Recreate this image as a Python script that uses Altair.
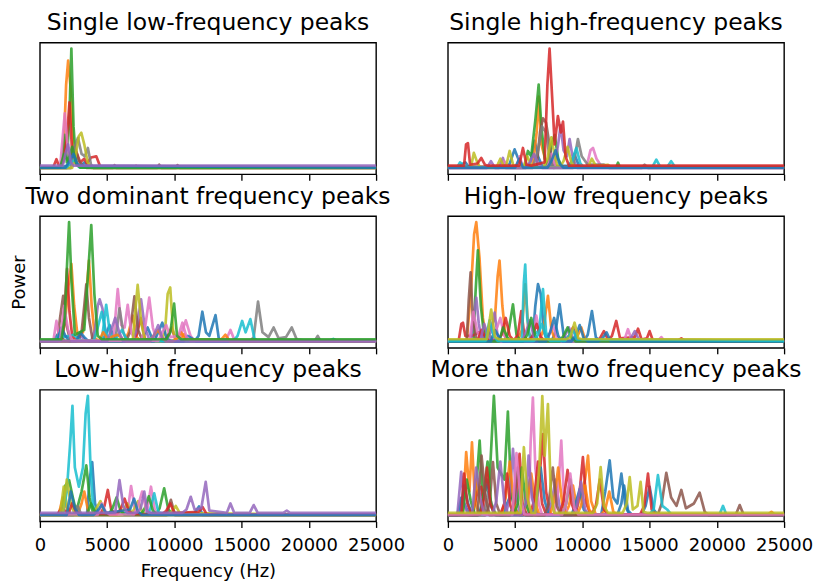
import altair as alt
import pandas as pd

TAB10 = ["#1f77b4", "#ff7f0e", "#2ca02c", "#d62728", "#9467bd",
         "#8c564b", "#e377c2", "#7f7f7f", "#bcbd22", "#17becf"]
FREQ_TICKS = [0, 5000, 10000, 15000, 20000, 25000]
PANEL_TITLES = ["Single low-frequency peaks", "Single high-frequency peaks",
                "Two dominant frequency peaks", "High-low frequency peaks",
                "Low-high frequency peaks", "More than two frequency peaks"]

# Each series: list of (frequency Hz, relative power).
# Series k of a panel list uses colour TAB10[k]; EXTRA lists give (colour index, points).
SINGLE_LOW = [
    [(0,0.5),(1500,0.5),(2200,3),(2500,10),(2750,4),(3000,1),(3300,5),(3600,1),(25000,0.5)],
    [(0,0.8),(1500,0.8),(1750,10),(1950,70),(2100,90),(2300,65),(2500,15),(2750,3),(3000,1),(25000,0.8)],
    [(0,0.6),(1600,0.6),(1850,28),(2000,5),(2200,45),(2340,100),(2500,35),(2700,3),(3000,1),(25000,0.6)],
    [(0,1),(1000,1),(1230,7.6),(1450,1),(1750,6),(2000,25),(2200,55),(2400,12),(2700,14),(3000,5),(3300,8),(3500,4),(3800,9),(4190,10),(4500,1),(7000,1),(7150,2),(7300,1),(25000,1)],
    [(0,2.2),(1700,2.2),(1900,12),(2100,20),(2300,5),(2500,2.2),(25000,2.2)],
    [(0,0.3),(2000,0.3),(2300,8),(2600,18),(2900,6),(3200,2),(3500,0.3),(5400,0.3),(5550,2.6),(5700,0.3),(8700,0.3),(8870,3),(9050,0.3),(10100,0.3),(10230,2.6),(10400,0.3),(25000,0.3)],
    [(0,0.7),(1500,0.7),(1650,20),(1850,46),(2050,20),(2250,3),(2500,6),(2800,2),(25000,0.7)],
    [(0,0.2),(2300,0.2),(2600,18),(2830,25.5),(3100,12),(3350,10),(3570,17),(3800,3),(4000,0.2),(25000,0.2)],
    [(0,0.4),(2400,0.4),(2650,10),(2900,27),(3080,29.7),(3300,20),(3550,5),(3800,0.4),(25000,0.4)],
    [(0,0.9),(2000,0.9),(2300,5),(2600,7),(2900,1),(25000,0.9)],
]
SINGLE_LOW_EXTRA = [
    (2, [(0,0.6),(1500,0.6),(1800,12),(2100,6),(2400,18),(2700,4),(3000,0.6),(25000,0.6)]),
    (0, [(0,0.5),(1900,0.5),(2200,6),(2500,12),(2800,3),(3300,2),(25000,0.5)]),
]

SINGLE_HIGH = [
    [(0,0.5),(800,0.5),(1000,3),(1300,5),(1600,0.5),(4400,0.5),(4600,4),(4960,15.8),(5300,6),(5600,1),(6000,1),(6200,8),(6450,23),(6700,10),(7000,2),(9000,2),(9200,6),(9400,12),(9800,0.5),(25000,0.5)],
    [(0,0.8),(6300,0.8),(6600,30),(6750,60),(6950,20),(7300,5),(7600,0.8),(16300,0.8),(16600,2),(16900,0.8),(25000,0.8)],
    [(0,0.6),(5700,0.6),(5950,14.5),(6200,10),(6500,40),(6750,70),(6950,35),(7200,8),(7450,3),(7700,20),(7940,28),(8200,8),(8500,0.6),(12500,0.6),(12650,4.7),(12800,0.6),(25000,0.6)],
    [(0,2.2),(1200,2.2),(1350,20),(1490,21),(1650,3),(2200,4),(2480,8.7),(2750,3),(3000,2.2),(5300,2.2),(5580,17),(5850,3),(6200,2.2),(7190,5),(7400,70),(7560,100),(7750,60),(7940,20),(8180,43.7),(8400,30),(8560,39),(8750,10),(9000,2.2),(25000,2.2)],
    [(0,0.4),(3800,0.4),(4090,8.7),(4300,0.4),(7900,0.4),(8200,20),(8380,36),(8600,15),(8850,10),(9050,24.4),(9300,8),(9600,0.4),(25000,0.4)],
    [(0,1.5),(6600,1.5),(6850,30),(7070,41.8),(7300,38),(7550,20),(7800,3),(8100,1.5),(25000,1.5)],
    [(0,0.7),(3900,0.7),(4200,6),(4500,0.7),(5100,0.7),(5330,10),(5600,0.7),(7400,0.7),(7700,12),(8000,0.7),(10300,0.7),(10600,15),(10790,17),(11050,8),(11400,2),(12000,0.7),(25000,0.7)],
    [(0,0.3),(6300,0.3),(6700,15),(7000,35),(7300,30),(7600,6),(7900,0.3),(9300,0.3),(9670,24.4),(9950,10),(10400,3),(11600,3),(12000,0.3),(14400,0.3),(14630,3),(14900,0.3),(25000,0.3)],
    [(0,0.5),(1700,0.5),(1930,12.9),(2150,6),(2400,0.5),(4300,0.5),(4590,14.5),(4850,3),(5100,0.5),(7100,0.5),(7400,8),(7690,25.8),(7950,10),(8200,0.5),(10400,0.5),(10700,8),(11000,2),(11900,3),(12200,0.5),(25000,0.5)],
    [(0,0.9),(700,0.9),(900,5),(1200,2),(1500,0.9),(8900,0.9),(9200,5),(9550,17),(9850,4),(10100,0.9),(15200,0.9),(15500,7.3),(15800,0.9),(16300,0.9),(16600,6),(16900,0.9),(25000,0.9)],
]
SINGLE_HIGH_EXTRA = [
    (8, [(0,0.5),(3600,0.5),(3900,8),(4200,0.5),(5600,0.5),(5900,10),(6200,3),(6500,0.5),(8300,0.5),(8600,6),(8900,18),(9200,4),(9500,0.5),(25000,0.5)]),
    (4, [(0,0.4),(2900,0.4),(3200,6),(3500,0.4),(5800,0.4),(6100,5),(6400,12),(6700,4),(7000,0.4),(25000,0.4)]),
    (0, [(0,0.5),(5000,0.5),(5300,8),(5600,0.5),(7400,0.5),(7700,6),(8000,15),(8300,4),(8600,0.5),(25000,0.5)]),
]

TWO_DOMINANT = [
    [(0,0.5),(1000,0.5),(1300,6),(1600,3),(1900,0.5),(4600,0.5),(4900,6),(5180,14),(5450,5),(5700,0.5),(7400,0.5),(7700,5),(8010,12),(8300,4),(8600,0.5),(11500,0.5),(11800,5),(12080,25.2),(12350,8),(12600,5),(13060,22.4),(13300,3),(13600,0.5),(25000,0.5)],
    [(0,0.7),(1600,0.7),(1900,20),(2100,45),(2340,65.2),(2550,30),(2800,5),(3200,8),(3450,40),(3650,68),(3850,30),(4100,3),(4400,0.7),(6300,0.7),(6600,8),(6900,22),(7200,4),(7500,0.7),(10100,0.7),(10400,2),(10720,6.5),(11000,0.7),(14000,2),(14300,0.7),(25000,0.7)],
    [(0,2.2),(1600,2.2),(1850,20),(2000,60),(2170,100),(2350,50),(2600,6),(3300,10),(3600,60),(3820,97.6),(4050,40),(4300,5),(4600,2.2),(9400,2.2),(9700,8),(9980,32),(10200,5),(10500,2.2),(25000,2.2)],
    [(0,1),(1700,1),(1850,30),(2020,61),(2200,25),(2400,5),(2700,1),(6900,1),(7200,6),(7500,20),(7800,3),(8100,1),(9200,1),(9500,5),(9800,12),(10100,1),(25000,1)],
    [(0,0.4),(2800,0.4),(3100,5),(3400,0.4),(3800,0.4),(4100,10),(4300,30),(4440,35.6),(4650,28),(4900,6),(5200,0.4),(6900,0.4),(7200,10),(7520,35.6),(7800,12),(8100,3),(8400,0.4),(25000,0.4)],
    [(0,0.3),(1300,0.3),(1500,20),(1730,38.4),(1950,15),(2200,4),(2500,0.3),(2800,0.3),(3100,8),(3300,30),(3450,48),(3650,20),(3900,3),(4200,0.3),(6400,0.3),(6700,8),(7030,38),(7300,10),(7600,2),(7900,0.3),(25000,0.3)],
    [(0,0.8),(1000,0.8),(1230,17.5),(1450,3),(1700,0.8),(5200,0.8),(5500,6),(5790,44),(6050,14),(6300,12),(6530,31),(6800,8),(7100,0.8),(7500,0.8),(7800,10),(8130,37),(8400,12),(8700,0.8),(10200,0.8),(10500,6),(10850,18),(11200,5),(11500,0.8),(13600,0.8),(13900,3),(14170,10),(14450,2),(14700,0.8),(25000,0.8)],
    [(0,0.2),(5600,0.2),(5920,28),(6200,8),(6500,0.2),(15600,0.2),(15900,4),(16220,33.7),(16550,8),(17000,4),(17380,12),(17750,3),(18300,4),(18730,12),(19100,2),(20400,0.2),(20660,5),(20900,0.2),(25000,0.2)],
    [(0,0.6),(6900,0.6),(7050,20),(7270,47.7),(7550,15),(7800,2),(8100,0.6),(9000,0.6),(9300,8),(9500,40),(9690,45.5),(9900,10),(10100,1),(25000,0.6)],
    [(0,0.9),(4600,0.9),(4930,31),(5200,8),(5500,0.9),(14400,0.9),(14700,5),(15040,17.5),(15300,8),(15650,19),(15950,3),(16200,0.9),(21500,0.9),(21820,2.5),(22100,0.9),(25000,0.9)],
]
TWO_DOMINANT_EXTRA = [
    (9, [(0,0.9),(1200,0.9),(1500,8),(1800,4),(2500,6),(2800,3),(3100,0.9),(4000,0.9),(4300,12),(4600,25),(4900,8),(5200,0.9),(5500,0.9),(5800,5),(6100,10),(6400,3),(6700,0.9),(25000,0.9)]),
    (0, [(0,0.5),(1300,0.5),(1600,12),(1900,5),(2200,0.5),(2700,0.5),(3000,8),(3300,4),(3600,0.5),(8500,0.5),(8800,8),(9100,16),(9400,4),(9700,0.5),(10700,0.5),(11000,5),(11300,3),(11600,0.5),(25000,0.5)]),
    (1, [(0,0.7),(4400,0.7),(4700,8),(5000,3),(5800,6),(6100,3),(6400,0.7),(8200,0.7),(8500,6),(8800,10),(9100,3),(9400,0.7),(9900,0.7),(10200,3),(10500,8),(10800,2),(13500,2),(13800,6),(14100,0.7),(25000,0.7)]),
    (6, [(0,0.8),(1500,0.8),(1800,30),(2100,10),(2400,0.8),(8800,0.8),(9100,8),(9400,14),(9700,4),(10300,5),(10600,16),(10900,4),(11200,0.8),(25000,0.8)]),
    (4, [(0,0.4),(5000,0.4),(5300,10),(5600,20),(5900,8),(6200,0.4),(8200,0.4),(8500,6),(8800,14),(9100,3),(9400,0.4),(25000,0.4)]),
]

HIGH_LOW = [
    [(0,0.5),(6300,0.5),(6500,30),(6700,48.3),(6900,40),(7150,8),(7400,0.5),(7700,0.5),(8000,8),(8310,31.4),(8600,6),(8900,0.5),(10100,0.5),(10400,6),(10710,25.8),(11000,4),(11300,0.5),(25000,0.5)],
    [(0,0.7),(1400,0.7),(1700,40),(1950,90),(2110,100),(2350,70),(2600,20),(2850,3),(3500,20),(3700,55),(3840,68),(4050,30),(4300,3),(4600,0.7),(5200,0.7),(5500,10),(5750,48),(6000,8),(6300,0.7),(6800,0.7),(7100,10),(7440,38.4),(7700,10),(8000,0.7),(9300,0.7),(9600,4),(9920,12),(10200,2),(10500,0.7),(25000,0.7)],
    [(0,0.4),(1900,0.4),(2050,40),(2230,76.5),(2450,30),(2700,4),(3000,0.4),(4200,0.4),(4500,8),(4840,31.4),(5100,6),(5400,0.4),(25000,0.4)],
    [(0,1),(800,1),(1000,15),(1120,16),(1300,5),(1800,5),(2300,8),(2800,3),(3100,1),(4900,1),(5200,6),(5460,25.8),(5700,4),(6000,1),(11900,1),(12200,5),(12520,17.5),(12800,3),(13900,4),(14140,11),(14400,2),(14800,3),(15000,9),(15250,1),(17100,1),(17360,3),(17600,1),(25000,1)],
    [(0,0.3),(1700,0.3),(1900,20),(2110,36.9),(2300,15),(2500,3),(3200,8),(3470,24.4),(3700,5),(4000,0.3),(25000,0.3)],
    [(0,0.2),(1400,0.2),(1550,35),(1690,58),(1850,20),(2100,3),(2400,0.2),(25000,0.2)],
    [(0,0.6),(6300,0.6),(6570,22),(6850,5),(7100,0.6),(13100,0.6),(13390,10.6),(13650,2),(15600,0.6),(15870,4),(16100,0.6),(25000,0.6)],
    [(0,0.8),(2600,0.8),(2900,10),(3200,4),(3500,0.8),(25000,0.8)],
    [(0,2.2),(2900,2.2),(3220,27),(3500,4),(3800,2.2),(8800,2.2),(9100,4),(9420,16),(9700,3),(10000,2.2),(25000,2.2)],
    [(0,0.9),(5500,0.9),(5650,50),(5750,64.6),(5900,20),(6100,3),(6800,10),(7070,44),(7300,8),(7600,0.9),(25000,0.9)],
]
HIGH_LOW_EXTRA = [
    (6, [(0,0.6),(1600,0.6),(1900,25),(2200,8),(2500,0.6),(3300,0.6),(3600,10),(3900,20),(4200,5),(4500,0.6),(7200,0.6),(7500,5),(7800,14),(8100,4),(8400,0.6),(25000,0.6)]),
    (3, [(0,1),(2200,1),(2500,10),(2800,4),(3100,1),(3700,1),(4000,6),(4300,20),(4600,5),(4900,1),(6000,1),(6300,5),(6600,15),(6900,4),(7200,1),(8700,1),(9000,5),(9300,12),(9600,3),(9900,1),(11000,1),(11300,3),(11600,9),(11900,2),(25000,1)]),
    (4, [(0,0.3),(2400,0.3),(2700,15),(3000,5),(3300,0.3),(5500,0.3),(5800,8),(6100,18),(6400,4),(6700,0.3),(8400,0.3),(8700,5),(9000,12),(9300,3),(9600,0.3),(13300,0.3),(13600,3),(13900,9),(14200,2),(14500,0.3),(25000,0.3)]),
    (2, [(0,0.4),(3800,0.4),(4100,12),(4400,4),(4700,0.4),(5600,0.4),(5900,6),(6200,20),(6500,5),(6800,0.4),(8300,0.4),(8600,5),(8900,12),(9200,3),(9500,0.4),(25000,0.4)]),
    (0, [(0,0.5),(3200,0.5),(3500,10),(3800,4),(4100,0.5),(7300,0.5),(7600,8),(7900,20),(8200,5),(8500,0.5),(9200,0.5),(9500,5),(9800,14),(10100,3),(10400,0.5),(11200,0.5),(11500,3),(11800,8),(12100,0.5),(25000,0.5)]),
    (9, [(0,0.9),(2800,0.9),(3100,18),(3400,5),(3700,0.9),(6400,0.9),(6700,6),(7000,15),(7300,4),(7600,0.9),(8700,0.9),(9000,5),(9300,10),(9600,2),(25000,0.9)]),
]

LOW_HIGH = [
    [(0,0.5),(3500,0.5),(3700,30),(3890,44.6),(4100,10),(4300,2),(11500,2),(11830,7.5),(12100,0.5),(25000,0.5)],
    [(0,0.7),(1400,0.7),(1700,15),(2000,6),(2300,0.7),(2800,0.7),(3100,10),(3300,20),(3600,3),(3900,0.7),(25000,0.7)],
    [(0,0.6),(1600,0.6),(1900,25),(2170,29.5),(2450,15),(2700,3),(3100,20),(3450,41.8),(3700,15),(3950,2),(4200,0.6),(8600,0.6),(8900,6),(9240,22.7),(9550,5),(9900,0.6),(25000,0.6)],
    [(0,1),(1300,1),(1600,6),(2000,3),(2300,1),(4500,1),(4800,8),(5050,21.3),(5300,5),(5600,1),(25000,1)],
    [(0,2.2),(5600,2.2),(5920,29.5),(6200,8),(6500,2.2),(7200,2.2),(7500,6),(7760,20),(8000,3),(8300,2.2),(10600,2.2),(10900,5),(11220,15.6),(11500,5),(12000,6),(12330,28),(12600,4),(13900,2.2),(14170,10),(14450,2.2),(15600,2.2),(15900,8.7),(16200,2.2),(18100,2.2),(18360,4),(18600,2.2),(25000,2.2)],
    [(0,0.3),(9400,0.3),(9740,13),(10050,0.3),(25000,0.3)],
    [(0,0.8),(6500,0.8),(6780,24.6),(7050,6),(7300,0.8),(7700,0.8),(8000,6),(8260,24),(8550,4),(8800,0.8),(25000,0.8)],
    [(0,0.2),(2500,0.2),(2800,8),(3100,0.2),(25000,0.2)],
    [(0,0.4),(1500,0.4),(1770,24),(2050,6),(2300,0.4),(5900,0.4),(6200,4),(6500,10),(6800,2),(7100,0.4),(25000,0.4)],
    [(0,0.9),(1700,0.9),(2000,20),(2250,60),(2420,91.5),(2600,40),(2900,24),(3200,40),(3400,85),(3570,100),(3750,45),(3950,8),(4200,0.9),(7900,0.9),(8200,5),(8500,18.5),(8800,3),(9100,0.9),(25000,0.9)],
]
LOW_HIGH_EXTRA = [
    (8, [(0,0.4),(1700,0.4),(2000,30),(2300,10),(2600,0.4),(3900,0.4),(4200,6),(4500,12),(4800,3),(5100,0.4),(6700,0.4),(7000,5),(7300,12),(7600,3),(7900,0.4),(9500,0.4),(9800,3),(10100,8),(10400,2),(25000,0.4)]),
    (2, [(0,0.6),(3500,0.6),(3800,10),(4100,3),(4400,0.6),(5100,0.6),(5400,6),(5700,15),(6000,4),(6300,0.6),(7500,0.6),(7800,6),(8100,16),(8400,4),(8700,0.6),(25000,0.6)]),
    (3, [(0,1),(2100,1),(2400,10),(2700,3),(3000,1),(5700,1),(6000,5),(6300,14),(6600,4),(6900,1),(9100,1),(9400,4),(9700,10),(10000,2),(11800,3),(12100,7),(12400,1),(25000,1)]),
    (6, [(0,0.8),(4300,0.8),(4600,10),(4900,3),(5200,0.8),(7000,0.8),(7300,8),(7600,20),(7900,5),(8200,0.8),(25000,0.8)]),
    (0, [(0,0.5),(2000,0.5),(2300,20),(2600,6),(2900,0.5),(4000,0.5),(4300,4),(4600,9),(4900,2),(6700,5),(7000,14),(7300,3),(7600,0.5),(25000,0.5)]),
]

MULTI_PEAKS = [
    [(0,0.5),(700,0.5),(1000,15),(1300,8),(1600,0.5),(4100,0.5),(4400,10),(4700,18),(5000,6),(5300,0.5),(11400,0.5),(11700,20),(12030,46),(12300,15),(12600,10),(12900,35),(13200,8),(13500,0.5),(14400,0.5),(14700,8),(15000,24),(15300,5),(15600,0.5),(25000,0.5)],
    [(0,0.7),(1100,0.7),(1360,53),(1600,20),(1790,61),(2000,15),(2300,0.7),(8700,0.7),(9000,8),(9300,25),(9600,6),(10200,30),(10420,50),(10650,12),(11000,0.7),(23800,0.7),(24060,3),(24300,0.7),(25000,0.7)],
    [(0,0.6),(1900,0.6),(2150,30),(2360,62.5),(2600,15),(3100,30),(3420,100),(3700,40),(4200,30),(4460,86.8),(4700,20),(5000,3),(5300,0.6),(25000,0.6)],
    [(0,1),(1800,1),(2200,20),(2480,24),(2700,5),(3000,1),(4800,1),(5100,15),(5330,51.5),(5550,10),(5850,1),(6500,1),(6800,30),(7070,68),(7300,20),(7600,1),(9500,1),(9800,20),(10040,48.8),(10300,10),(10600,1),(14300,1),(14600,8),(14880,35),(15150,5),(15400,1),(25000,1)],
    [(0,0.4),(700,0.4),(990,36.5),(1200,10),(1500,0.4),(4300,0.4),(4600,15),(4840,55.7),(5100,15),(5400,0.4),(7400,0.4),(7700,10),(8000,30),(8300,8),(8600,0.4),(25000,0.4)],
    [(0,0.3),(2800,0.3),(3100,10),(3350,44.6),(3600,10),(3900,0.3),(15600,0.3),(15900,10),(16240,35.6),(16600,15),(17000,8),(17360,21.3),(17700,6),(18300,10),(18720,19),(19100,3),(19400,0.3),(21400,0.3),(21700,8.7),(22000,0.3),(25000,0.3)],
    [(0,0.8),(6000,0.8),(6150,60),(6320,98.4),(6500,40),(6750,10),(7000,0.8),(7900,0.8),(8200,20),(8430,62.5),(8650,10),(8900,0.8),(25000,0.8)],
    [(0,0.2),(2700,0.2),(3000,20),(3300,8),(3600,0.2),(5500,0.2),(5800,10),(6100,30),(6400,8),(6700,0.2),(25000,0.2)],
    [(0,2.2),(5400,2.2),(5650,57),(5900,15),(6200,2.2),(6500,2.2),(6800,40),(7020,99.8),(7200,50),(7440,93),(7650,20),(7900,2.2),(10800,2.2),(11100,10),(11360,40.4),(11600,8),(11900,2.2),(13000,2.2),(13300,10),(13520,32),(13750,5),(14100,8),(14330,28),(14550,3),(14800,2.2),(25000,2.2)],
    [(0,0.9),(15000,0.9),(15300,5),(15620,33.7),(15950,8),(16300,5),(16600,0.9),(20200,0.9),(20460,8),(20700,0.9),(25000,0.9)],
]
MULTI_PEAKS_EXTRA = [
    (0, [(0,0.5),(900,0.5),(1200,25),(1500,10),(1800,0.5),(2300,0.5),(2600,12),(2900,30),(3200,8),(3500,0.5),(6300,0.5),(6600,15),(6900,40),(7200,12),(7500,0.5),(9200,0.5),(9500,10),(9800,22),(10100,5),(10400,0.5),(12600,0.5),(12900,10),(13100,25),(13400,4),(13700,0.5),(25000,0.5)]),
    (1, [(0,0.7),(1900,0.7),(2100,30),(2400,12),(2700,0.7),(4000,0.7),(4300,15),(4600,45),(4900,10),(5200,0.7),(5600,0.7),(5900,10),(6200,35),(6500,10),(6800,0.7),(7600,0.7),(7900,12),(8200,40),(8500,10),(8800,0.7),(9600,0.7),(9900,8),(10200,25),(10500,5),(10800,0.7),(11400,0.7),(11700,5),(12000,20),(12300,3),(12600,0.7),(25000,0.7)]),
    (2, [(0,0.6),(1100,0.6),(1400,30),(1700,12),(2000,0.6),(2400,0.6),(2700,20),(2950,45),(3200,10),(3500,0.6),(4900,0.6),(5200,10),(5500,40),(5800,10),(6100,0.6),(8500,0.6),(8800,10),(9100,30),(9400,6),(9700,0.6),(25000,0.6)]),
    (3, [(0,1),(1000,1),(1200,35),(1450,10),(1750,1),(2400,1),(2700,15),(2900,40),(3150,10),(3450,1),(3900,1),(4200,10),(4400,35),(4650,8),(4950,1),(6100,1),(6400,12),(6700,45),(7000,10),(7300,1),(8300,1),(8600,12),(8900,38),(9200,10),(9500,1),(10700,1),(11000,8),(11300,30),(11600,5),(11900,1),(25000,1)]),
    (4, [(0,0.4),(1800,0.4),(2100,40),(2400,15),(2700,0.4),(3300,0.4),(3600,12),(3900,45),(4200,10),(4500,0.4),(5500,0.4),(5800,10),(6000,50),(6250,15),(6550,0.4),(9300,0.4),(9600,8),(9900,28),(10200,5),(10500,0.4),(25000,0.4)]),
    (5, [(0,0.3),(2200,0.3),(2500,50),(2800,15),(3100,0.3),(4600,0.3),(4900,10),(5200,40),(5500,10),(5800,0.3),(7200,0.3),(7500,10),(7800,40),(8100,8),(8400,0.3),(25000,0.3)]),
    (6, [(0,0.8),(4800,0.8),(5100,52),(5400,15),(5700,0.8),(8500,0.8),(8800,10),(9100,35),(9400,6),(9700,0.8),(25000,0.8)]),
]

PANELS = [SINGLE_LOW, SINGLE_HIGH, TWO_DOMINANT, HIGH_LOW, LOW_HIGH, MULTI_PEAKS]
EXTRAS = [SINGLE_LOW_EXTRA, SINGLE_HIGH_EXTRA, TWO_DOMINANT_EXTRA, HIGH_LOW_EXTRA,
          LOW_HIGH_EXTRA, MULTI_PEAKS_EXTRA]
# colour index of the series whose flat baseline is drawn on top in each panel
TOP_SERIES = [4, 3, 2, 8, 4, 8]

FONT = "DejaVu Sans"


def to_frame(idx):
    ordered = [(k, pts) for k, pts in enumerate(PANELS[idx]) if k != TOP_SERIES[idx]]
    ordered += EXTRAS[idx]
    ordered.append((TOP_SERIES[idx], PANELS[idx][TOP_SERIES[idx]]))
    rows = []
    for n, (ci, pts) in enumerate(ordered):
        for f, v in pts:
            rows.append({"series": f"s{n:02d}", "col": TAB10[ci],
                         "freq": f, "power": v})
    return pd.DataFrame(rows)


def panel(idx):
    row, col = divmod(idx, 2)
    bottom = row == 2
    df = to_frame(idx)
    x_axis = alt.Axis(values=FREQ_TICKS, labels=bottom, ticks=True, tickSize=6,
                      tickWidth=1.3, tickColor="black", domain=False, grid=False,
                      labelFontSize=18, labelFont=FONT, labelColor="black",
                      labelPadding=9, labelFlush=False, labelOverlap=False,
                      format="d", titleFontSize=18, titleFont=FONT,
                      titleFontWeight="normal", titleColor="black", titlePadding=8)
    if bottom and col == 0:
        x = alt.X("freq:Q", scale=alt.Scale(domain=[0, 25000], nice=False, zero=False),
                  axis=x_axis, title="Frequency (Hz)")
    else:
        x = alt.X("freq:Q", scale=alt.Scale(domain=[0, 25000], nice=False, zero=False),
                  axis=x_axis, title=None)
    yscale = alt.Scale(domain=[-5, 105], nice=False, zero=False)
    if row == 1 and col == 0:
        y = alt.Y("power:Q", scale=yscale,
                  axis=alt.Axis(labels=False, ticks=False, domain=False, grid=False,
                                minExtent=0, titleFontSize=18, titleFont=FONT,
                                titleFontWeight="normal", titleColor="black",
                                titlePadding=11),
                  title="Power")
    else:
        y = alt.Y("power:Q", scale=yscale, axis=None)
    return alt.Chart(df).mark_line(strokeWidth=2.7, opacity=0.85, strokeJoin="round",
                                   strokeCap="round", clip=True).encode(
        x=x, y=y,
        color=alt.Color("col:N", scale=None),
        detail="series:N",
    ).properties(
        width=337, height=132,
        title=alt.TitleParams(PANEL_TITLES[idx], fontSize=23.5, font=FONT,
                              fontWeight="normal", color="black", offset=8,
                              anchor="middle"),
    )


chart = alt.concat(*[panel(i) for i in range(6)], columns=2,
                   spacing={"row": 42, "column": 72}, bounds="flush").properties(
    padding={"left": 10, "top": 9, "right": 2, "bottom": 5},
).configure(background="white").configure_view(stroke="black", strokeWidth=1.4)

chart.save("out.html", embed_options={"renderer": "svg", "actions": False})
